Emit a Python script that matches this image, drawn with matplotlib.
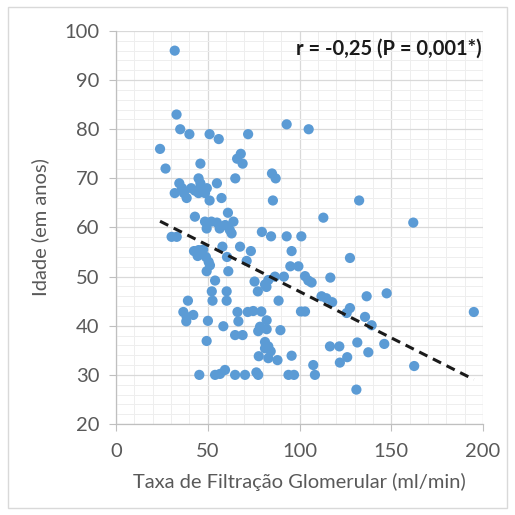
import matplotlib
matplotlib.use("Agg")
import matplotlib.pyplot as plt
from matplotlib.ticker import MultipleLocator
from matplotlib.patches import Rectangle
import numpy as np

# Data
tfg = [32, 33, 35, 40, 51, 56, 72, 93, 105, 24, 27, 46, 68, 66, 69, 65, 85, 87,
       34.5, 45, 46, 55, 32, 36, 37, 41, 43, 47, 49.5, 45, 48.5, 38.5, 51, 57.5,
       85.5, 132.5, 113, 162, 61, 43, 48.5, 52, 55, 59.5, 64, 49.4, 56.5, 62, 63,
       30.3, 33.1, 79.5, 84.5, 93, 101, 42.5, 45, 47.5, 44.5, 49, 50.5, 51.2, 58,
       60.5, 67.6, 73.5, 71.2, 95.7, 127.5, 95, 99.4, 49.4, 61.2, 54, 75.5, 81.2,
       83, 86.6, 91.5, 82, 103, 104.8, 106.6, 116.8, 77.3, 52.2, 60.3, 147.5,
       136.6, 112, 114.6, 117.8, 88.6, 39.2, 52.6, 60.3, 36.7, 42.1, 38.3, 38.5,
       50.1, 58.5, 66.2, 71.8, 74.8, 79.2, 100.8, 103, 66.7, 82.1, 78.5, 82.1,
       77.5, 89.6, 64.9, 69, 49.4, 81.2, 83, 84.3, 81.2, 77.8, 83, 88, 95.7,
       116.6, 121.7, 131.5, 137.5, 146.2, 126, 122, 162.5, 107.5, 139.3, 135.7,
       127.5, 125.7, 195, 131,
       45.4, 54, 56.7, 59.4, 64.9, 70.3, 76.5, 77.5, 94, 97, 108.4]
idade = [96, 83, 80, 79, 79, 78, 79, 81, 80, 76, 72, 73, 75, 74, 73, 70, 71, 70,
         69, 70, 69, 69, 67, 68, 67, 68, 67.5, 68, 68, 67, 67, 66, 65.5, 66,
         65.5, 65.5, 62, 61, 63, 62.2, 61.2, 61.2, 61, 60.5, 61.2, 59.8, 59.8, 59.5, 58.8,
         58.1, 58.1, 59.1, 58.2, 58.2, 58.2, 55.2, 55.4, 55.5, 54.2, 54, 53, 52.3, 56.1,
         54, 56.1, 55.2, 53.2, 55.2, 53.8, 52.1, 52.1, 51.1, 51.1, 49.2, 49, 48.4,
         49.3, 50, 50, 47.9, 50.1, 49.2, 48.8, 49.8, 47, 47, 47, 46.6,
         46, 46, 45.6, 44.8, 45.1, 45.1, 45.1, 45.1, 42.8, 42.2, 40.9, 41.8,
         41, 39.9, 42.8, 42.8, 43, 42.9, 42.9, 42.9, 40.9, 41.1, 39.8, 39.3,
         38.9, 39.1, 38.1, 38.1, 36.9, 36.7, 35.8, 34.8, 35.4, 33.8, 33.4, 33, 33.9,
         35.8, 35.8, 36.6, 34.6, 36.3, 33.6, 32.5, 31.8, 32, 40.1, 41.8,
         43.6, 42.6, 42.8, 27,
         30, 30, 30.2, 31, 30, 30, 30.5, 30, 30, 30, 30]

# Trend line (intercept, slope)
trend_intercept = 65.8
trend_slope = -0.1884

xticks = [0, 50, 100, 150, 200]
yticks = [20, 30, 40, 50, 60, 70, 80, 90, 100]

plt.rcParams['font.family'] = ['Lato', 'DejaVu Sans']

fig = plt.figure(figsize=(5.15, 5.15), dpi=100)
ax = fig.add_axes([116/515, 1 - 424/515, (483 - 116)/515, (424 - 31)/515])

ax.set_xlim(0, 200)
ax.set_ylim(20, 100)
ax.set_xticks(xticks)
ax.set_yticks(yticks)
ax.xaxis.set_minor_locator(MultipleLocator(10))
ax.yaxis.set_minor_locator(MultipleLocator(2))
ax.grid(which='major', color='#d9d9d9', linewidth=0.9, zorder=0)
ax.grid(which='minor', color='#eeeeee', linewidth=0.7, zorder=0)
ax.set_axisbelow(True)

for s in ['top', 'right']:
    ax.spines[s].set_visible(False)
for s in ['left', 'bottom']:
    ax.spines[s].set_color('#bfbfbf')
    ax.spines[s].set_linewidth(0.9)

ax.tick_params(which='major', direction='out', length=5, color='#bfbfbf',
               labelsize=14.5, labelcolor='#595959')
ax.tick_params(axis='x', which='major', pad=9)
ax.tick_params(axis='y', which='major', pad=7)
ax.tick_params(which='minor', length=0)

ax.scatter(tfg, idade, s=54, color='#5b9bd5', edgecolors='none', zorder=3)

xs = np.array([min(tfg), max(tfg)])
ax.plot(xs, trend_intercept + trend_slope * xs, linestyle=(0, (3, 2)),
        color='#1a1a1a', linewidth=2.2, zorder=4)

ax.set_xlabel('Taxa de Filtração Glomerular (ml/min)', fontsize=14.5,
              color='#595959', labelpad=9)
ax.set_ylabel('Idade (em anos)', fontsize=14.5, color='#595959', labelpad=11)

ax.text(0.995, 0.955, 'r = -0,25 (P = 0,001*)', transform=ax.transAxes,
        ha='right', va='center', fontsize=14.5, fontweight='bold', color='#1a1a1a')

fig.patches.append(Rectangle((8/515, 7/515), (507 - 8)/515, (508 - 7)/515,
                             transform=fig.transFigure, fill=False,
                             edgecolor='#d9d9d9', linewidth=1.0))

fig.savefig('out.png', dpi=100)
